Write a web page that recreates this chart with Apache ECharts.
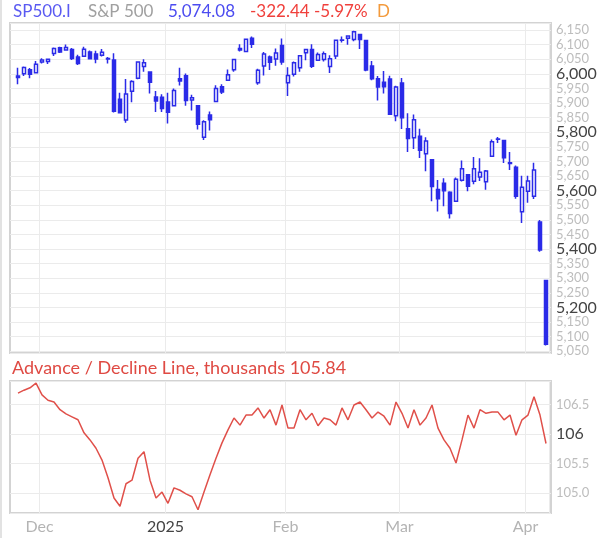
<!DOCTYPE html>
<html><head><meta charset="utf-8">
<script src="https://cdn.jsdelivr.net/npm/echarts@6/dist/echarts.min.js"></script>
<style>html,body{margin:0;padding:0;background:#fff}#c{width:600px;height:538px}</style>
</head><body><div id="c"></div>
<script>
const dates = [
'2024-11-25','2024-11-26','2024-11-27','2024-11-29',
'2024-12-02','2024-12-03','2024-12-04','2024-12-05','2024-12-06','2024-12-09','2024-12-10','2024-12-11','2024-12-12','2024-12-13','2024-12-16','2024-12-17','2024-12-18','2024-12-19','2024-12-20','2024-12-23','2024-12-24','2024-12-26','2024-12-27','2024-12-30','2024-12-31',
'2025-01-02','2025-01-03','2025-01-06','2025-01-07','2025-01-08','2025-01-10','2025-01-13','2025-01-14','2025-01-15','2025-01-16','2025-01-17','2025-01-21','2025-01-22','2025-01-23','2025-01-24','2025-01-27','2025-01-28','2025-01-29','2025-01-30','2025-01-31',
'2025-02-03','2025-02-04','2025-02-05','2025-02-06','2025-02-07','2025-02-10','2025-02-11','2025-02-12','2025-02-13','2025-02-14','2025-02-18','2025-02-19','2025-02-20','2025-02-21','2025-02-24','2025-02-25','2025-02-26','2025-02-27','2025-02-28',
'2025-03-03','2025-03-04','2025-03-05','2025-03-06','2025-03-07','2025-03-10','2025-03-11','2025-03-12','2025-03-13','2025-03-14','2025-03-17','2025-03-18','2025-03-19','2025-03-20','2025-03-21','2025-03-24','2025-03-25','2025-03-26','2025-03-27','2025-03-28','2025-03-31',
'2025-04-01','2025-04-02','2025-04-03','2025-04-04'];

const openP = [
5992.28,6000.03,6014.11,6003.98,
6040.11,6041.97,6069.39,6089.03,6081.38,6083.01,6057.59,6060.15,6074.29,6068.17,6063.79,6052.55,6047.65,5912.71,5842.00,5940.25,5984.63,6024.97,6006.17,5920.67,5919.74,
5903.26,5891.07,5982.81,5993.26,5910.66,5890.66,5782.96,5859.10,5905.21,5955.50,5977.75,6014.12,6081.39,6076.32,6121.43,5969.04,6026.97,6057.70,6050.75,6096.79,
5969.65,5998.14,6020.45,6072.22,6083.13,6046.40,6049.32,6025.08,6060.59,6115.52,6121.60,6117.76,6134.50,6114.10,6026.69,5982.73,5970.87,5981.88,5856.74,
5968.33,5811.98,5781.39,5785.87,5726.01,5705.37,5603.65,5624.84,5594.45,5563.85,5635.60,5654.53,5632.37,5646.92,5630.73,5718.08,5775.86,5771.66,5695.64,5679.80,5527.91,
5597.53,5580.76,5492.74,5292.14];

const highP = [
6020.75,6025.42,6020.16,6044.17,
6053.58,6052.13,6089.84,6092.27,6099.97,6088.51,6065.40,6092.59,6079.68,6078.58,6085.19,6057.68,6070.67,5935.52,5982.06,5978.25,6040.10,6049.75,6006.17,5940.79,5929.74,
5935.09,5949.34,6021.04,6000.68,5927.89,5890.66,5841.20,5870.96,5960.61,5964.69,6014.96,6051.51,6100.81,6118.73,6128.18,6017.17,6074.54,6062.83,6086.64,6120.91,
6022.13,6042.48,6062.86,6084.03,6101.28,6073.38,6076.28,6063.23,6116.91,6127.47,6129.63,6147.43,6134.50,6114.82,6043.65,5992.65,6009.82,5993.69,5959.40,
5986.09,5865.08,5860.59,5812.08,5783.01,5705.37,5636.30,5642.19,5597.78,5645.27,5703.52,5654.53,5715.33,5711.15,5670.84,5775.14,5783.91,5771.66,5732.28,5685.89,5650.57,
5650.83,5695.31,5499.53,5292.14];

const lowP = [
5963.91,5992.27,5984.87,6003.98,
6035.33,6033.39,6061.06,6071.50,6079.98,6047.15,6029.89,6060.15,6051.25,6035.77,6059.14,6035.19,5867.79,5866.07,5832.30,5902.57,5981.44,6007.37,5932.95,5869.16,5868.86,
5829.53,5888.66,5960.01,5890.68,5874.78,5809.22,5773.31,5806.13,5905.21,5930.79,5977.75,6006.88,6076.13,6074.67,6088.74,5962.92,5994.63,6012.96,6027.46,6030.93,
5923.93,5990.87,6007.06,6046.83,6019.96,6044.84,6042.34,6003.00,6051.00,6107.62,6099.51,6111.15,6084.59,6008.56,5977.83,5908.49,5932.69,5858.78,5837.66,
5810.91,5732.59,5742.35,5711.64,5666.29,5564.02,5528.41,5546.09,5504.65,5563.85,5631.12,5597.76,5622.20,5632.91,5603.10,5718.08,5763.03,5694.41,5670.94,5572.42,5488.73,
5558.52,5571.48,5390.83,5069.90];

const closeP = [
5987.37,6021.63,5998.74,6032.38,
6047.15,6049.88,6086.49,6075.11,6090.27,6052.85,6034.91,6084.19,6051.25,6051.09,6074.08,6050.61,5872.16,5867.08,5930.85,5974.07,6040.04,6037.59,5970.84,5906.94,5881.63,
5868.55,5942.47,5975.38,5909.03,5918.25,5827.04,5836.22,5842.91,5949.91,5937.34,5996.66,6049.24,6086.37,6118.71,6101.24,6012.28,6067.70,6039.31,6071.17,6040.53,
5994.57,6037.88,6061.48,6083.57,6025.99,6066.44,6068.50,6051.97,6115.07,6114.63,6129.58,6144.15,6117.52,6013.13,5983.25,5955.25,5956.06,5861.57,5954.50,
5849.72,5778.15,5842.63,5738.52,5770.20,5614.56,5572.07,5599.30,5521.52,5638.94,5675.12,5614.66,5675.29,5662.89,5667.56,5767.57,5776.65,5712.20,5693.31,5580.94,5611.85,
5633.07,5670.97,5396.52,5074.08];

const adLine = [
106.69,106.74,106.78,106.86,
106.66,106.57,106.54,106.41,106.34,106.29,106.24,106.02,105.90,105.76,105.56,105.26,104.92,104.78,105.16,105.22,105.59,105.70,105.22,104.92,105.02,
104.83,105.09,105.05,104.99,104.94,104.72,105.02,105.31,105.59,105.85,106.07,106.27,106.15,106.32,106.32,106.44,106.27,106.41,106.15,106.49,
106.10,106.10,106.41,106.24,106.35,106.14,106.27,106.24,106.15,106.44,106.24,106.49,106.54,106.41,106.27,106.37,106.30,106.15,106.54,
106.35,106.10,106.41,106.15,106.27,106.49,106.10,105.90,105.76,105.51,105.90,106.32,106.10,106.41,106.35,106.37,106.37,106.24,106.32,105.98,106.24,
106.32,106.63,106.32,105.84];

const monthNames = ['Jan','Feb','Mar','Apr','May','Jun','Jul','Aug','Sep','Oct','Nov','Dec'];
const FONT = 'Lato';
const BLUE = '#2b2be8';
const GRID = '#ebebeb';
const FRAME = '#d3d3d3';

function isMonthStart(i) {
  return i > 0 && dates[i].slice(0, 7) !== dates[i - 1].slice(0, 7);
}
function monthLabel(d) {
  const m = +d.slice(5, 7);
  return m === 1 ? '{y|' + d.slice(0, 4) + '}' : '{m|' + monthNames[m - 1] + '}';
}

const candleData = dates.map((d, i) => [openP[i], closeP[i], lowP[i], highP[i]]);

const chart = echarts.init(document.getElementById('c'), null, {renderer: 'canvas'});
chart.setOption({
  animation: false,
  textStyle: {fontFamily: FONT},
  title: [
    {
      left: 13, top: 3, padding: 0,
      text: '{a|SP500.I}{b|S&P 500}{c|5,074.08}{d|-322.44}{e|-5.97%}{f|D}',
      textStyle: {
        fontSize: 17, fontWeight: 'normal', fontFamily: FONT,
        rich: {
          a: {fontSize: 17, fontFamily: FONT, color: '#5a5af2', width: 75},
          b: {fontSize: 17, fontFamily: FONT, color: '#a0a0a0', width: 80},
          c: {fontSize: 17, fontFamily: FONT, color: '#4c4cf0', width: 82},
          d: {fontSize: 17, fontFamily: FONT, color: '#f0403c', width: 64},
          e: {fontSize: 17, fontFamily: FONT, color: '#f0403c', width: 63},
          f: {fontSize: 17, fontFamily: FONT, color: '#f39a3c'}
        }
      }
    },
    {
      left: 12, top: 359, padding: 0,
      text: 'Advance / Decline Line, thousands 105.84',
      textStyle: {fontSize: 18, fontWeight: 'normal', fontFamily: FONT, color: '#df4a43'}
    }
  ],
  graphic: [
    {type: 'rect', left: 0, top: 0, shape: {width: 2, height: 538}, style: {fill: '#e2e2e2'}, silent: true}
  ],
  grid: [
    {left: 10, top: 23, width: 541, height: 330, show: true, borderColor: FRAME, borderWidth: 2},
    {left: 15, top: 23, width: 534, height: 330},
    {left: 10, top: 381, width: 541, height: 132, show: true, borderColor: FRAME, borderWidth: 2},
    {left: 15, top: 381, width: 534, height: 132}
  ],
  xAxis: [
    {gridIndex: 0, type: 'value', min: 0, max: 1, show: false},
    {gridIndex: 1, type: 'category', data: dates, boundaryGap: true,
     axisLine: {show: false}, axisTick: {show: false}, axisLabel: {show: false},
     splitLine: {show: true, interval: (i) => isMonthStart(i), lineStyle: {color: GRID, width: 1}}},
    {gridIndex: 2, type: 'value', min: 0, max: 1, show: false},
    {gridIndex: 3, type: 'category', data: dates, boundaryGap: true,
     axisLine: {show: false}, axisTick: {show: false},
     axisLabel: {show: true, interval: (i) => isMonthStart(i), margin: 6, padding: [0, 5, 0, 0],
       formatter: (v) => monthLabel(v),
       rich: {m: {fontSize: 16, color: '#b4b4b4', fontFamily: FONT}, y: {fontSize: 16, color: '#444', fontFamily: FONT}}},
     splitLine: {show: true, interval: (i) => isMonthStart(i), lineStyle: {color: GRID, width: 1}}}
  ],
  yAxis: [
    {gridIndex: 0, type: 'value', position: 'right', min: 5044, max: 6174, splitNumber: 22,
     axisLine: {show: false}, axisTick: {show: false},
     splitLine: {show: true, lineStyle: {color: GRID, width: 1}},
     axisLabel: {margin: 5, showMinLabel: false, showMaxLabel: false,
       formatter: (v) => {
         if (Math.abs(v / 50 - Math.round(v / 50)) > 1e-6) return '';
         const s = Math.round(v).toLocaleString('en-US');
         return Math.round(v) % 200 === 0 ? '{M|' + s + '}' : '{m|' + s + '}';
       },
       rich: {M: {fontSize: 16, color: '#444', fontFamily: FONT}, m: {fontSize: 13, color: '#bdbdbd', fontFamily: FONT}}}},
    {gridIndex: 1, type: 'value', min: 5044, max: 6174, show: false, splitLine: {show: false}},
    {gridIndex: 2, type: 'value', position: 'right', min: 104.666, max: 106.895, splitNumber: 5,
     axisLine: {show: false}, axisTick: {show: false},
     splitLine: {show: true, lineStyle: {color: GRID, width: 1}},
     axisLabel: {margin: 5, showMinLabel: false, showMaxLabel: false,
       formatter: (v) => {
         if (Math.abs(v / 0.5 - Math.round(v / 0.5)) > 1e-6) return '';
         return Math.abs(v - 106) < 1e-6 ? '{M|106}' : '{m|' + v.toFixed(1) + '}';
       },
       rich: {M: {fontSize: 16, color: '#444', fontFamily: FONT}, m: {fontSize: 13, color: '#bdbdbd', fontFamily: FONT}}}},
    {gridIndex: 3, type: 'value', min: 104.666, max: 106.895, show: false, splitLine: {show: false}}
  ],
  series: [
    {type: 'candlestick', xAxisIndex: 1, yAxisIndex: 1, data: candleData, barWidth: 4,
     itemStyle: {color: '#ffffff', color0: BLUE, borderColor: BLUE, borderColor0: BLUE, borderWidth: 1.5}},
    {type: 'line', xAxisIndex: 3, yAxisIndex: 3, data: adLine, symbol: 'none', showSymbol: false,
     lineStyle: {color: '#e0504a', width: 1.5}}
  ]
});
</script>
</body></html>
